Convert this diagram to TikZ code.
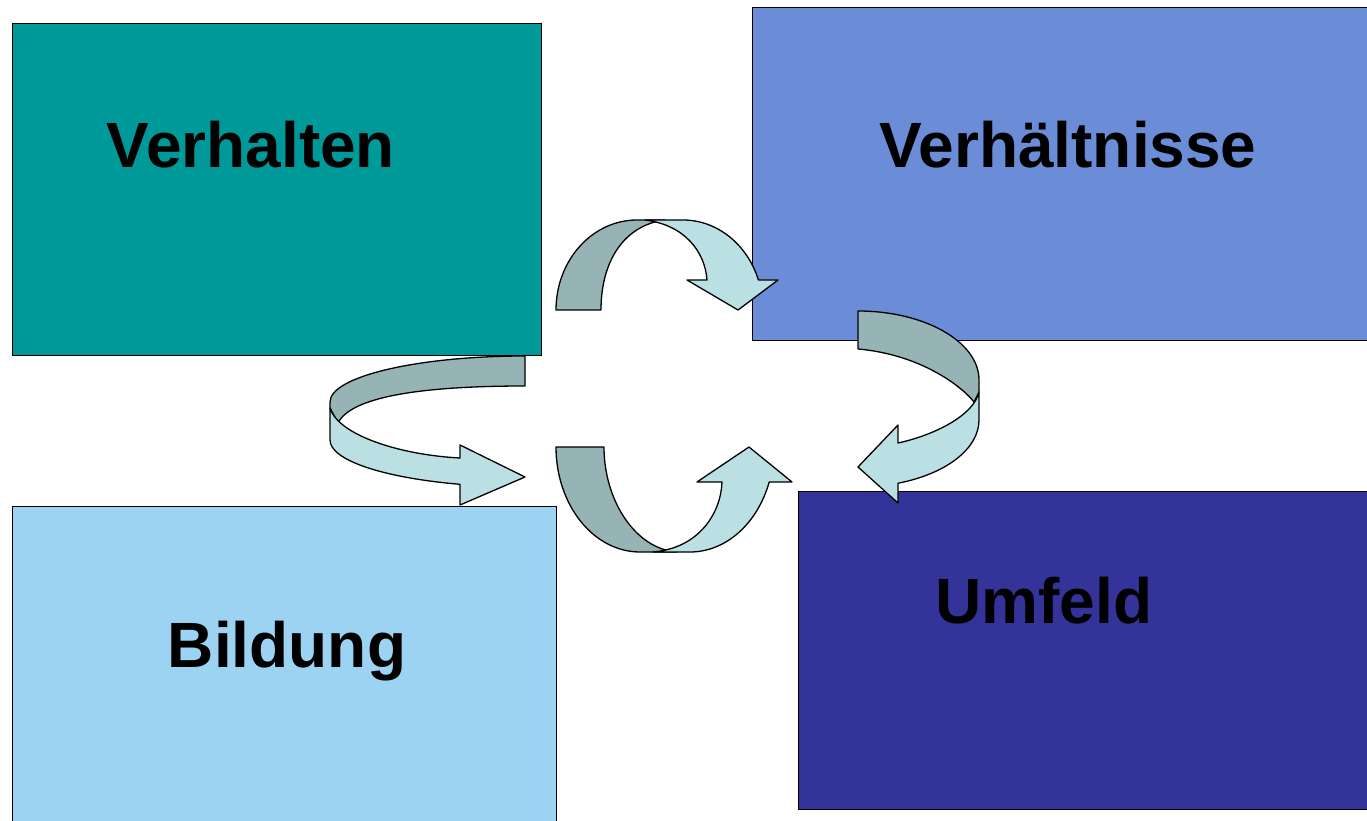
\documentclass[tikz,border=0pt]{standalone}
\usepackage{fontspec}
\setmainfont{Liberation Sans}
\definecolor{cVerhalten}{HTML}{009999}
\definecolor{cVerh}{HTML}{6B8CD6}
\definecolor{cBildung}{HTML}{9DD3F2}
\definecolor{cUmfeld}{HTML}{333399}
\definecolor{arrDark}{HTML}{96B3B6}
\definecolor{arrLight}{HTML}{BBE0E3}
\begin{document}
\begin{tikzpicture}[x=1pt,y=1pt,
  box/.style={draw=black, line width=1.4pt, rectangle, inner sep=0pt, anchor=south west},
  lbl/.style={font=\fontsize{64}{70}\selectfont\bfseries, anchor=base, inner sep=0pt},
  back/.style={fill=arrDark, draw=black, line width=1.3pt, line join=round},
  front/.style={fill=arrLight, draw=black, line width=1.3pt, line join=round}]
\useasboundingbox (0,0) rectangle (1367,820);
\clip (0,0) rectangle (1367,820);
\fill[white] (0,0) rectangle (1367,820);

% boxes
\node[box, fill=cVerhalten, minimum width=529pt, minimum height=332pt] (verhalten) at (12,464) {};
\node[box, fill=cVerh, minimum width=630pt, minimum height=333pt] (verhaeltnisse) at (752,479) {};
\node[box, fill=cBildung, minimum width=544pt, minimum height=330pt] (bildung) at (12,-17) {};
\node[box, fill=cUmfeld, minimum width=580pt, minimum height=318pt] (umfeld) at (798,10) {};

% arrow 1 (top, arching up)
\draw[back] (556,510) arc[start angle=180,end angle=90,x radius=81,y radius=90]
  -- (665,600) .. controls (625,595) and (601,560) .. (601,510) -- cycle;
\draw[front] (645,600) -- (683,600) arc[start angle=90,end angle=19.5,x radius=80,y radius=90]
  -- (778,540) -- (738,510) -- (687,540) -- (707,540)
  .. controls (705,568) and (685,595) .. (645,600) -- cycle;

% arrow 2 (right)
\draw[back] (858,509) arc[start angle=90,end angle=0,x radius=121,y radius=69]
  -- (979,428) -- (974,418) .. controls (965,430) and (925,465) .. (858,471) -- cycle;
\draw[front] (979,428) -- (979,400) arc[start angle=0,end angle=-70.7,x radius=121,y radius=67]
  -- (898,317) -- (858,353) -- (898,395) -- (898,377)
  .. controls (935,385) and (974,405) .. (979,428) -- cycle;

% arrow 3 (left)
\draw[back] (525,464) arc[start angle=90,end angle=180,x radius=195,y radius=46]
  -- (330,412) -- (338,397) .. controls (352,425) and (430,434) .. (525,434) -- cycle;
\draw[front] (330,412) -- (330,380) arc[start angle=180,end angle=250.5,x radius=195,y radius=47]
  -- (460,315) -- (525,343) -- (460,375) -- (460,362)
  .. controls (400,365) and (338,385) .. (330,412) -- cycle;

% arrow 4 (bottom, arching down)
\draw[back] (556,373) arc[start angle=180,end angle=270,x radius=84,y radius=105]
  -- (677,268) .. controls (635,271) and (604,320) .. (604,373) -- cycle;
\draw[front] (653,268) -- (690,268) arc[start angle=270,end angle=340.5,x radius=84,y radius=105]
  -- (792,338) -- (749,373) -- (697,338) -- (722,338)
  .. controls (721,308) and (700,272) .. (653,268) -- cycle;

% labels
\node[lbl] (tVerhalten) at (251,652) {Verhalten};
\node[lbl] (tVerhaeltnisse) at (1068,652) {Verhältnisse};
\node[lbl] (tBildung) at (287,153) {Bildung};
\node[lbl] (tUmfeld) at (1044,197) {Umfeld};
\end{tikzpicture}
\end{document}
